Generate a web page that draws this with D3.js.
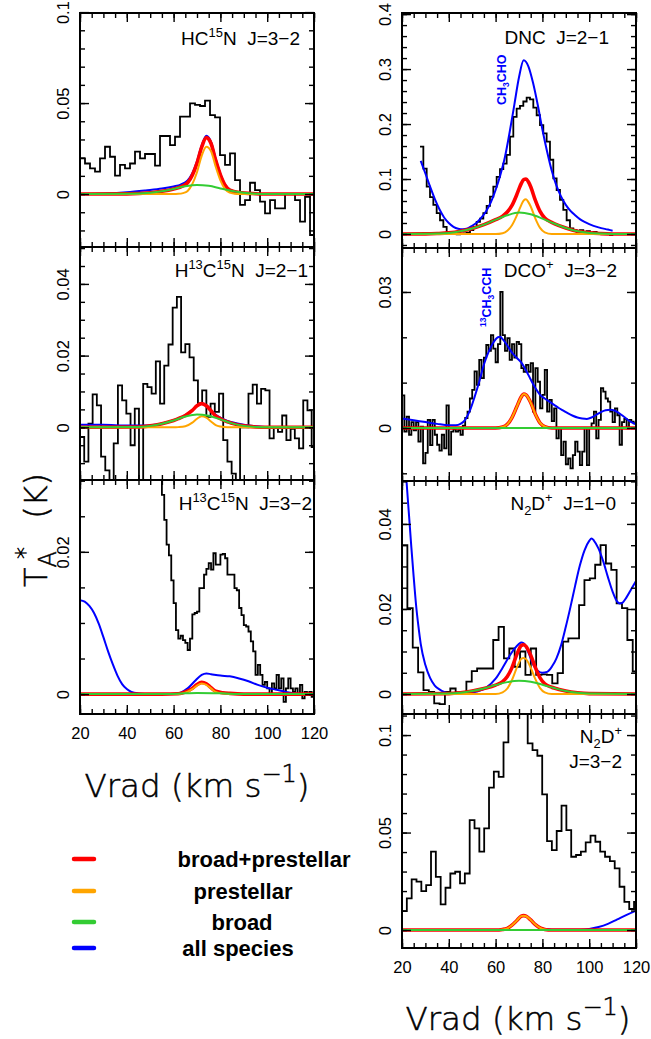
<!DOCTYPE html>
<html><head><meta charset="utf-8">
<script src="https://cdn.jsdelivr.net/npm/d3@7"></script>
<style>body{margin:0;background:#fff} svg{display:block} text{white-space:pre}</style>
</head><body>
<script>
// ---------------- DATA ----------------
const velocityDomain = [20, 120];
const velocityMajorTicks = [20, 40, 60, 80, 100, 120];
const seriesNames = ["broad+prestellar", "prestellar", "broad", "all species"];
const seriesColors = ["#ff0000", "#ffa500", "#33cc33", "#0000ff"];

// HC15N J=3-2
const hc15n32_yTicks = [0, 0.05, 0.1];
const hc15n32_v0 = 20, hc15n32_dv = 2.137;
const hc15n32_obs = [0.0196,0.0168,0.0141,0.0123,0.0196,0.026,0.0205,0.0101,0.016,0.0141,0.0168,0.0233,0.0196,0.022,0.022,0.0156,0.0319,0.0319,0.0269,0.0315,0.0425,0.0425,0.0498,0.049,0.0484,0.0513,0.0434,0.0421,0.0214,0.016,0.0223,0.0077,-0.006,-0.0033,0.0062,0.0022,-0.0042,-0.0106,-0.0033,-0.0079,-0.0079,0,0,-0.0033,-0.0152,-0.0015,-0.0225];
const hc15n32_blue = [[20,0],[30,0.0002],[40,0.001],[48,0.002],[55,0.003],[60,0.0042],[63,0.0052],[66,0.0075],[68,0.0115],[70,0.018],[72,0.0267],[74,0.032],[76,0.0287],[78,0.0192],[80,0.011],[82,0.0052],[84,0.0024],[88,0.0008],[95,0.0002],[100,0],[120,0]];
const hc15n32_red = [[20,0],[40,0.0001],[50,0.0007],[55,0.0015],[60,0.0028],[64,0.0045],[66,0.0062],[68,0.0103],[70,0.017],[72,0.0258],[74,0.031],[76,0.0278],[78,0.0185],[80,0.0106],[82,0.0049],[84,0.0022],[88,0.0008],[95,0.0002],[100,0],[120,0]];
const hc15n32_orange = [[20,0],[60,0],[62,0.0001],[64,0.0005],[66,0.0017],[68,0.0055],[70,0.012],[72,0.021],[74,0.026],[76,0.0235],[78,0.015],[80,0.0075],[82,0.0027],[84,0.0008],[86,0.0002],[88,0],[120,0]];
const hc15n32_green = [[20,0],[40,0.0001],[50,0.0007],[55,0.0015],[60,0.0028],[65,0.0043],[70,0.005],[75,0.0045],[80,0.0031],[85,0.0017],[90,0.0007],[95,0.0002],[100,0],[120,0]];

// H13C15N J=2-1
const h13c15n21_yTicks = [0, 0.02, 0.04];
const h13c15n21_v0 = 20, h13c15n21_dv = 1.8;
const h13c15n21_obs = [-0.0027,-0.0096,0.001,0.0092,0.0061,-0.0082,-0.012,-0.016,-0.0045,0.0117,0.0075,0.0038,-0.005,0.0052,-0.016,0.0121,0.0112,0.0094,0.0184,0.0066,0.0172,0.0231,0.0334,0.0364,0.0209,0.0232,0.0195,0.0131,0.0066,0.0103,0.0029,0.0066,0.0043,0.0094,-0.0036,-0.0096,-0.0129,-0.016,0,0,0.0094,0.0119,0.0066,0.0107,0.0103,-0.0031,0,-0.0013,0.0033,-0.0036,-0.0004,-0.0031,-0.0059,0.0075,0.0047,-0.0055];
const h13c15n21_blue = [[20,0.0007],[30,0.0007],[40,0.0005],[48,0.0005],[55,0.0011],[60,0.002],[62,0.0025],[65,0.0034],[68,0.0048],[70,0.0061],[72,0.0067],[74,0.0061],[76,0.0048],[78,0.0035],[80,0.0027],[83,0.0018],[85,0.0014],[90,0.0007],[95,0.0003],[100,0.0001],[120,0.0001]];
const h13c15n21_red = [[20,0],[45,0.0001],[50,0.0004],[55,0.001],[60,0.0019],[62,0.0024],[65,0.0033],[68,0.0047],[70,0.006],[72,0.0066],[74,0.006],[76,0.0046],[78,0.0032],[80,0.0024],[83,0.0015],[85,0.0011],[90,0.0004],[95,0.0001],[100,0],[120,0]];
const h13c15n21_orange = [[20,0],[60,0],[62,0.00005],[65,0.0003],[68,0.0013],[70,0.0024],[72,0.0031],[74,0.0027],[76,0.0016],[78,0.0006],[80,0.0002],[83,0],[120,0]];
const h13c15n21_green = [[20,0],[45,0.0001],[50,0.0004],[55,0.001],[60,0.0019],[65,0.003],[70,0.0036],[75,0.0032],[80,0.0022],[85,0.0011],[90,0.0004],[95,0.0001],[100,0],[120,0]];

// H13C15N J=3-2
const h13c15n32_yTicks = [0, 0.02];
const h13c15n32_v0 = 54, h13c15n32_dv = 1;
const h13c15n32_obs = [0.034,0.028,0.0245,0.021,0.0195,0.016,0.0128,0.009,0.0078,0.0082,0.0076,0.0072,0.0062,0.0078,0.0112,0.0114,0.0116,0.0149,0.0149,0.0168,0.0176,0.0184,0.0175,0.0198,0.0182,0.0182,0.0196,0.0197,0.0191,0.0168,0.0168,0.0168,0.0149,0.0146,0.0121,0.0111,0.0097,0.0095,0.0088,0.0074,0.006,0.0027,0.0041,0.0027,0.0013,0.0017,0.0008,-0.0001,0.0015,0.0008,0.0027,0.0008,0.0022,-0.0011,0.0008,0.0022,0.0008,0.0003,0.0008,-0.0001,0.0013,-0.0006,0.0003,-0.0001,0.0003,-0.0004];
const h13c15n32_blue = [[20,0.0132],[22,0.013],[24,0.0124],[26,0.0114],[28,0.0099],[30,0.008],[32,0.006],[34,0.0042],[36,0.0026],[38,0.0014],[40,0.0007],[42,0.0003],[45,0.0001],[50,0],[60,0],[63,0.0002],[66,0.0008],[69,0.0018],[72,0.0027],[74,0.0029],[76,0.0028],[80,0.0026],[84,0.0025],[88,0.0022],[92,0.0018],[96,0.0013],[100,0.0009],[104,0.0006],[108,0.0003],[112,0.0001],[116,0],[120,0]];
const h13c15n32_red = [[20,0],[55,0],[62,0.00005],[65,0.0003],[68,0.0008],[70,0.00135],[72,0.00165],[74,0.00145],[76,0.0009],[78,0.0004],[81,0.0002],[84,0.0001],[90,0],[120,0]];
const h13c15n32_orange = [[20,0],[62,0],[65,0.0002],[68,0.0007],[70,0.0012],[72,0.0015],[74,0.0013],[76,0.0008],[78,0.0003],[81,0.0001],[84,0],[120,0]];
const h13c15n32_green = [[20,0],[55,0],[65,0.0001],[70,0.00015],[80,0.0001],[90,0],[120,0]];

// DNC J=2-1
const dnc21_yTicks = [0, 0.1, 0.2, 0.3, 0.4];
const dnc21_v0 = 27.7, dnc21_dv = 1.424;
const dnc21_obs = [0.159,0.119,0.086,0.067,0.053,0.038,0.025,0.013,0.004,0.001,0,-0.0006,0,0.001,0.0024,0.007,0.013,0.022,0.028,0.038,0.051,0.068,0.086,0.104,0.118,0.128,0.144,0.177,0.213,0.228,0.233,0.241,0.248,0.245,0.230,0.216,0.198,0.183,0.168,0.135,0.101,0.080,0.062,0.044,0.025,0.010,0.007,0.004,0.007,0.004,0.005,0.002,0.004,0.001,0.002,0.001,0,-0.002];
const dnc21_blue = [[28,0.133],[30,0.11],[32,0.086],[34,0.064],[36,0.045],[38,0.03],[40,0.02],[42,0.013],[44,0.0095],[46,0.0085],[48,0.01],[50,0.015],[52,0.021],[54,0.03],[56,0.042],[58,0.058],[60,0.08],[62,0.107],[64,0.14],[66,0.185],[68,0.235],[70,0.285],[72,0.316],[74,0.305],[76,0.275],[78,0.235],[80,0.19],[82,0.15],[84,0.115],[86,0.088],[88,0.068],[90,0.053],[92,0.042],[94,0.034],[96,0.027],[98,0.022],[100,0.018],[104,0.012],[108,0.008],[110,0.006]];
const dnc21_red = [[20,0],[30,0.0002],[35,0.0008],[40,0.002],[45,0.005],[50,0.01],[55,0.017],[60,0.026],[63,0.0325],[65,0.04],[67,0.052],[69,0.071],[70,0.082],[71,0.092],[72,0.099],[73,0.1],[74,0.095],[75,0.086],[77,0.061],[79,0.041],[81,0.029],[84,0.021],[85,0.019],[90,0.011],[95,0.005],[100,0.002],[105,0.0007],[110,0.0001],[120,0]];
const dnc21_orange = [[20,0],[60,0],[63,0.0015],[65,0.006],[67,0.016],[69,0.033],[70,0.043],[71,0.053],[72,0.061],[73,0.063],[74,0.058],[75,0.05],[77,0.028],[79,0.011],[81,0.003],[84,0],[120,0]];
const dnc21_green = [[20,0],[30,0.0002],[35,0.0008],[40,0.002],[45,0.005],[50,0.01],[55,0.017],[60,0.026],[65,0.034],[70,0.039],[75,0.036],[80,0.028],[85,0.019],[90,0.011],[95,0.005],[100,0.002],[105,0.0007],[110,0.0001],[120,0]];

// DCO+ J=3-2
const dco32_yTicks = [0, 0.03];
const dco32_v0 = 20, dco32_dv = 1;
const dco32_obs = [0.0072,-0.0008,0.0025,-0.0015,0.0013,-0.0005,0.0013,-0.003,0.0003,-0.0078,-0.0055,0.0018,-0.0038,0.0018,-0.0015,-0.0037,-0.005,-0.0015,-0.0045,0.005,-0.0059,-0.0008,-0.0003,-0.0008,-0.0005,-0.0015,0.0005,0.0022,0.0036,0.0065,0.0084,0.0125,0.0095,0.015,0.011,0.0155,0.0183,0.017,0.0205,0.0175,0.0145,0.0185,0.030,0.0205,0.017,0.0198,0.015,0.0185,0.0155,0.019,0.0185,0.0132,0.0124,0.0139,0.0124,0.0143,0.0036,0.0132,0.0102,0.0043,0.0073,0.0128,0.0036,0.0062,0.0015,0.0043,-0.0023,0,-0.006,-0.003,-0.008,-0.0067,-0.0089,-0.006,-0.003,-0.0052,-0.0082,-0.0052,0,-0.0082,0,0.001,0.0036,-0.0023,0.0018,0.0088,0.008,0.0065,0.0058,0.0036,0.0013,0.0043,0.0028,-0.0037,0.0013,0.002,-0.0001,0.0018,0.0014,0.001];
const dco32_blue = [[20,0.0021],[25,0.0017],[30,0.0013],[35,0.0009],[40,0.0006],[43,0.0006],[45,0.0009],[47,0.0018],[49,0.0038],[51,0.0068],[53,0.0102],[55,0.014],[57,0.0168],[59,0.0188],[61,0.02],[62,0.0201],[63,0.0196],[65,0.0182],[67,0.0166],[69,0.0155],[71,0.0144],[73,0.0127],[75,0.0107],[77,0.0088],[79,0.0073],[81,0.0065],[83,0.0058],[85,0.0051],[87,0.0044],[89,0.0038],[91,0.0032],[93,0.0027],[95,0.0023],[97,0.0021],[99,0.002],[101,0.0023],[103,0.0029],[105,0.0035],[107,0.0039],[109,0.004],[111,0.0038],[113,0.0032],[115,0.0024],[117,0.0016],[120,0.0008]];
const dco32_red = [[20,0],[60,0],[63,0.0002],[65,0.0008],[67,0.0023],[69,0.0046],[71,0.0069],[72,0.0075],[73,0.0073],[75,0.0056],[77,0.003],[79,0.0011],[81,0.0003],[84,0],[120,0]];
const dco32_orange = [[20,0],[60,0],[63,0.0002],[65,0.0008],[67,0.0023],[69,0.0046],[71,0.0069],[72,0.0075],[73,0.0073],[75,0.0056],[77,0.003],[79,0.0011],[81,0.0003],[84,0],[120,0]];
const dco32_green = [[20,0],[120,0]];

// N2D+ J=1-0
const n2dp10_yTicks = [0, 0.02, 0.04];
const n2dp10_v0 = 20, n2dp10_dv = 2.293;
const n2dp10_obs = [0.035,0.0202,0.0109,0.0051,0.0009,0.0005,-0.0022,-0.0024,0.0005,0.0013,0.0004,0.0002,0.0029,0.0054,0.006,0.006,0.006,0.0127,0.0158,0.0084,0.0107,0.0064,0.01,0.0045,0.0107,0.0045,0.0046,0.0045,0.0025,0.0049,0.0123,0.0131,0.0131,0.0209,0.0268,0.0272,0.0304,0.035,0.0307,0.0292,0.0213,0.0202,0.0127,0.0053];
const n2dp10_blue = [[20,0.068],[21,0.058],[22,0.0495],[23,0.042],[24,0.0345],[25,0.0275],[26,0.021],[27,0.016],[28,0.0118],[30,0.0068],[32,0.0038],[34,0.002],[36,0.0011],[38,0.0005],[40,0.0002],[44,0.0001],[48,0.0002],[52,0.0006],[56,0.0015],[60,0.0036],[63,0.0062],[66,0.009],[68,0.0106],[70,0.0118],[71,0.0121],[72,0.0119],[74,0.0098],[76,0.007],[78,0.0055],[80,0.005],[82,0.0052],[84,0.0064],[86,0.0084],[88,0.0115],[90,0.0158],[92,0.0205],[94,0.0255],[96,0.0302],[98,0.0338],[100,0.036],[101,0.0366],[102,0.0361],[104,0.0342],[106,0.0312],[108,0.0275],[110,0.0241],[112,0.0217],[113,0.0213],[114,0.0214],[116,0.0228],[118,0.0247],[120,0.0266]];
const n2dp10_red = [[20,0],[40,0.0001],[45,0.0003],[50,0.0007],[55,0.0013],[60,0.0021],[63,0.0029],[65,0.0041],[67,0.0062],[69,0.0092],[71,0.0114],[72,0.0116],[73,0.0112],[75,0.0091],[77,0.0062],[79,0.0038],[81,0.0024],[84,0.0016],[85,0.0014],[90,0.0007],[95,0.0003],[100,0.0001],[120,0]];
const n2dp10_orange = [[20,0],[60,0],[63,0.0004],[65,0.0013],[67,0.0033],[69,0.0061],[71,0.0083],[72,0.0085],[73,0.0082],[75,0.0062],[77,0.0035],[79,0.0014],[81,0.0004],[84,0],[120,0]];
const n2dp10_green = [[20,0],[40,0.0001],[45,0.0003],[50,0.0007],[55,0.0013],[60,0.0021],[65,0.0028],[70,0.0031],[75,0.0029],[80,0.0022],[85,0.0014],[90,0.0007],[95,0.0003],[100,0.0001],[120,0]];

// N2D+ J=3-2
const n2dp32_yTicks = [0, 0.05, 0.1];
const n2dp32_v0 = 20, n2dp32_dv = 2.066;
const n2dp32_obs = [0.0097,0.0162,0.026,0.0248,0.02,0.023,0.0402,0.0273,0.0132,0.0217,0.029,0.0299,0.0239,0.029,0.0564,0.0521,0.0402,0.0521,0.073,0.0812,0.0786,0.0962,0.125,0.13,0.13,0.125,0.0957,0.0923,0.0894,0.0696,0.0456,0.041,0.0508,0.0638,0.0513,0.0376,0.0385,0.0402,0.045,0.0484,0.0453,0.0402,0.0376,0.0354,0.0316,0.0222,0.0145,0.0108,0.0145];
const n2dp32_blue = [[20,0],[60,0],[63,0.0003],[65,0.0009],[67,0.0025],[69,0.0048],[71,0.0071],[72,0.0074],[73,0.0071],[75,0.0052],[77,0.0028],[79,0.0012],[81,0.0005],[84,0.0002],[90,0.0001],[96,0.0002],[100,0.0006],[104,0.0016],[108,0.0032],[112,0.0055],[116,0.0078],[120,0.0099]];
const n2dp32_red = [[20,0],[60,0],[63,0.0003],[65,0.0009],[67,0.0025],[69,0.0048],[71,0.0071],[72,0.0074],[73,0.0071],[75,0.0052],[77,0.0028],[79,0.0011],[81,0.0003],[84,0],[120,0]];
const n2dp32_orange = [[20,0],[60,0],[63,0.0003],[65,0.0009],[67,0.0025],[69,0.0048],[71,0.0071],[72,0.0074],[73,0.0071],[75,0.0052],[77,0.0028],[79,0.0011],[81,0.0003],[84,0],[120,0]];
const n2dp32_green = [[20,0],[120,0]];

// ---------------- LAYOUT ----------------
const colX = [[80, 314], [402, 636]];
const panels = [
  {col:0, top:13, bottom:247, yDomain:[-0.0291,0.0995], minor:0.01, yTicks:hc15n32_yTicks, v0:hc15n32_v0, dv:hc15n32_dv, obs:hc15n32_obs,
   curves:[hc15n32_blue,hc15n32_red,hc15n32_orange,hc15n32_green], xLabels:false,
   title:[[{t:"HC"},{t:"15",s:"sup"},{t:"N  J=3−2"}]], tx:300, ty:[45]},
  {col:0, top:247, bottom:480, yDomain:[-0.0147,0.0503], minor:0.005, yTicks:h13c15n21_yTicks, v0:h13c15n21_v0, dv:h13c15n21_dv, obs:h13c15n21_obs,
   curves:[h13c15n21_blue,h13c15n21_red,h13c15n21_orange,h13c15n21_green], xLabels:false,
   title:[[{t:"H"},{t:"13",s:"sup"},{t:"C"},{t:"15",s:"sup"},{t:"N  J=2−1"}]], tx:308, ty:[277]},
  {col:0, top:480, bottom:714, yDomain:[-0.0028,0.0301], minor:0.005, yTicks:h13c15n32_yTicks, v0:h13c15n32_v0, dv:h13c15n32_dv, obs:h13c15n32_obs,
   curves:[h13c15n32_blue,h13c15n32_red,h13c15n32_orange,h13c15n32_green], xLabels:true,
   title:[[{t:"H"},{t:"13",s:"sup"},{t:"C"},{t:"15",s:"sup"},{t:"N  J=3−2"}]], tx:312, ty:[510]},
  {col:1, top:13, bottom:248, yDomain:[-0.0255,0.402], minor:0.02, yTicks:dnc21_yTicks, v0:dnc21_v0, dv:dnc21_dv, obs:dnc21_obs,
   curves:[dnc21_blue,dnc21_red,dnc21_orange,dnc21_green], xLabels:false,
   title:[[{t:"DNC  J=2−1"}]], tx:609, ty:[44]},
  {col:1, top:248, bottom:481, yDomain:[-0.0117,0.0397], minor:0.01, yTicks:dco32_yTicks, v0:dco32_v0, dv:dco32_dv, obs:dco32_obs,
   curves:[dco32_blue,dco32_red,dco32_orange,dco32_green], xLabels:false,
   title:[[{t:"DCO"},{t:"+",s:"sup"},{t:"  J=3−2"}]], tx:617, ty:[277]},
  {col:1, top:481, bottom:714, yDomain:[-0.0047,0.0501], minor:0.005, yTicks:n2dp10_yTicks, v0:n2dp10_v0, dv:n2dp10_dv, obs:n2dp10_obs,
   curves:[n2dp10_blue,n2dp10_red,n2dp10_orange,n2dp10_green], xLabels:false,
   title:[[{t:"N"},{t:"2",s:"sub"},{t:"D"},{t:"+",s:"sup"},{t:"  J=1−0"}]], tx:616, ty:[510]},
  {col:1, top:714, bottom:948, yDomain:[-0.0092,0.1108], minor:0.01, yTicks:n2dp32_yTicks, v0:n2dp32_v0, dv:n2dp32_dv, obs:n2dp32_obs,
   curves:[n2dp32_blue,n2dp32_red,n2dp32_orange,n2dp32_green], xLabels:true,
   title:[[{t:"N"},{t:"2",s:"sub"},{t:"D"},{t:"+",s:"sup"}],[{t:"J=3−2"}]], tx:622, ty:[743,768]}
];

const curveColors = ["#0000ff", "#ff0000", "#ffa500", "#33cc33"];
const curveWidths = [2, 3.6, 2, 2];
const FONT = "'Liberation Sans', Arial, Helvetica, sans-serif";
const THIN = "'DejaVu Sans', sans-serif";

const svg = d3.select("body").append("svg").attr("width", 651).attr("height", 1039)
  .style("background", "#fff");
const defs = svg.append("defs");

function addRich(sel, parts, size) {
  let shift = 0;
  parts.forEach(p => {
    const ts = sel.append("tspan").text(p.t);
    let target = 0;
    if (p.s === "sup") { ts.attr("font-size", size * 0.68); target = -size * 0.42; }
    else if (p.s === "sub") { ts.attr("font-size", size * 0.68); target = size * 0.25; }
    if (target !== shift) { ts.attr("dy", target - shift); shift = target; }
  });
}

panels.forEach((p, i) => {
  const xs = d3.scaleLinear().domain(velocityDomain).range(colX[p.col]);
  const ys = d3.scaleLinear().domain(p.yDomain).range([p.bottom, p.top]);
  const x0 = colX[p.col][0], x1 = colX[p.col][1];
  const g = svg.append("g");
  defs.append("clipPath").attr("id", "clip" + i).append("rect")
    .attr("x", x0).attr("y", p.top).attr("width", x1 - x0).attr("height", p.bottom - p.top);
  const plot = g.append("g").attr("clip-path", `url(#clip${i})`);

  const pts = p.obs.map((t, k) => [p.v0 + k * p.dv, t]);
  pts.push([p.v0 + p.obs.length * p.dv, p.obs[p.obs.length - 1]]);
  plot.append("path")
    .attr("d", d3.line().x(d => xs(d[0])).y(d => ys(d[1])).curve(d3.curveStepAfter)(pts))
    .attr("fill", "none").attr("stroke", "#000").attr("stroke-width", 1.8).attr("stroke-linejoin", "miter");

  const smooth = d3.line().x(d => xs(d[0])).y(d => ys(d[1])).curve(d3.curveMonotoneX);
  p.curves.forEach((c, j) => {
    plot.append("path").attr("d", smooth(c)).attr("fill", "none")
      .attr("stroke", curveColors[j]).attr("stroke-width", curveWidths[j]).attr("stroke-linejoin", "round");
  });

  // axes (ticks inward on all four sides)
  const xMinor = d3.range(20, 120.001, 5);
  const yMinor = d3.range(Math.ceil(p.yDomain[0] / p.minor) * p.minor, p.yDomain[1] + 1e-9, p.minor);
  const fmtY = d => d === 0 ? "0" : String(+d.toFixed(3));
  const style = s => { s.select(".domain").remove(); s.selectAll(".tick line").attr("stroke", "#000").attr("stroke-width", 1.4); };

  g.append("g").attr("transform", `translate(0,${p.bottom})`)
    .call(d3.axisBottom(xs).tickValues(xMinor).tickSize(-5).tickFormat("")).call(style);
  const bx = g.append("g").attr("transform", `translate(0,${p.bottom})`)
    .call(d3.axisBottom(xs).tickValues(velocityMajorTicks).tickSize(-9).tickFormat(p.xLabels ? d3.format("d") : () => "")).call(style);
  bx.selectAll("text").attr("y", 13).attr("font-family", FONT).attr("font-size", 16.5).attr("fill", "#000");
  g.append("g").attr("transform", `translate(0,${p.top})`)
    .call(d3.axisTop(xs).tickValues(xMinor).tickSize(-5).tickFormat("")).call(style);
  g.append("g").attr("transform", `translate(0,${p.top})`)
    .call(d3.axisTop(xs).tickValues(velocityMajorTicks).tickSize(-9).tickFormat("")).call(style);

  g.append("g").attr("transform", `translate(${x0},0)`)
    .call(d3.axisLeft(ys).tickValues(yMinor).tickSize(-5).tickFormat("")).call(style);
  const ly = g.append("g").attr("transform", `translate(${x0},0)`)
    .call(d3.axisLeft(ys).tickValues(p.yTicks).tickSize(-9).tickFormat(fmtY)).call(style);
  ly.selectAll("text").attr("x", null).attr("dy", null)
    .attr("transform", "translate(-17,0) rotate(-90)")
    .attr("text-anchor", "middle").attr("dominant-baseline", "central")
    .attr("font-family", FONT).attr("font-size", 16.5).attr("fill", "#000");
  g.append("g").attr("transform", `translate(${x1},0)`)
    .call(d3.axisRight(ys).tickValues(yMinor).tickSize(-5).tickFormat("")).call(style);
  g.append("g").attr("transform", `translate(${x1},0)`)
    .call(d3.axisRight(ys).tickValues(p.yTicks).tickSize(-9).tickFormat("")).call(style);

  g.append("rect").attr("x", x0).attr("y", p.top).attr("width", x1 - x0).attr("height", p.bottom - p.top)
    .attr("fill", "none").attr("stroke", "#000").attr("stroke-width", 2);

  // title
  p.title.forEach((line, li) => {
    const t = g.append("text").attr("x", p.tx).attr("y", p.ty[li]).attr("text-anchor", "end")
      .attr("font-family", FONT).attr("font-size", 19).attr("fill", "#000");
    addRich(t, line, 19);
  });
});

// blue species annotations
const ann1 = svg.append("text").attr("transform", "translate(506,105) rotate(-90)")
  .attr("font-family", FONT).attr("font-weight", "bold").attr("font-size", 12.5).attr("fill", "#0000ff");
addRich(ann1, [{t:"CH"},{t:"3",s:"sub"},{t:"CHO"}], 12.5);
const ann2 = svg.append("text").attr("transform", "translate(491,327) rotate(-90)")
  .attr("font-family", FONT).attr("font-weight", "bold").attr("font-size", 12.5).attr("fill", "#0000ff");
addRich(ann2, [{t:"13",s:"sup"},{t:"CH"},{t:"3",s:"sub"},{t:"CCH"}], 12.5);

// axis titles
function vradLabel(cx, baseline) {
  const t = svg.append("text").attr("x", cx).attr("y", baseline).attr("text-anchor", "middle")
    .attr("font-family", THIN).attr("font-weight", 200).attr("font-size", 32.5)
    .attr("fill", "#000").attr("stroke", "#000").attr("stroke-width", 0.5);
  t.append("tspan").text("Vrad (km s");
  t.append("tspan").text("−1").attr("dy", -15).attr("font-size", 24);
  t.append("tspan").text(")").attr("dy", 15);
}
vradLabel(197, 797);
vradLabel(518, 1030);

const yl = svg.append("text").attr("transform", "translate(47,587) rotate(-90)")
  .attr("font-family", THIN).attr("font-weight", 200).attr("font-size", 32)
  .attr("fill", "#000").attr("stroke", "#000").attr("stroke-width", 0.5);
yl.append("tspan").text("T");
yl.append("tspan").text("A").attr("font-size", 24).attr("dy", 9);
yl.append("tspan").text("*").attr("font-size", 24).attr("dx", -8).attr("dy", -23);
yl.append("tspan").text(" (K)").attr("dy", 14).attr("dx", 18);

// legend
const legendY = [859, 891, 922, 948];
const legendTextX = [264, 243, 242, 238];
seriesNames.forEach((name, i) => {
  svg.append("line").attr("x1", 74).attr("x2", 94).attr("y1", legendY[i]).attr("y2", legendY[i])
    .attr("stroke", seriesColors[i]).attr("stroke-width", 4.5).attr("stroke-linecap", "round");
  svg.append("text").attr("x", legendTextX[i]).attr("y", legendY[i] + 8).attr("text-anchor", "middle")
    .attr("font-family", FONT).attr("font-weight", "bold").attr("font-size", 22).attr("fill", "#000").text(name);
});
</script>
</body></html>
